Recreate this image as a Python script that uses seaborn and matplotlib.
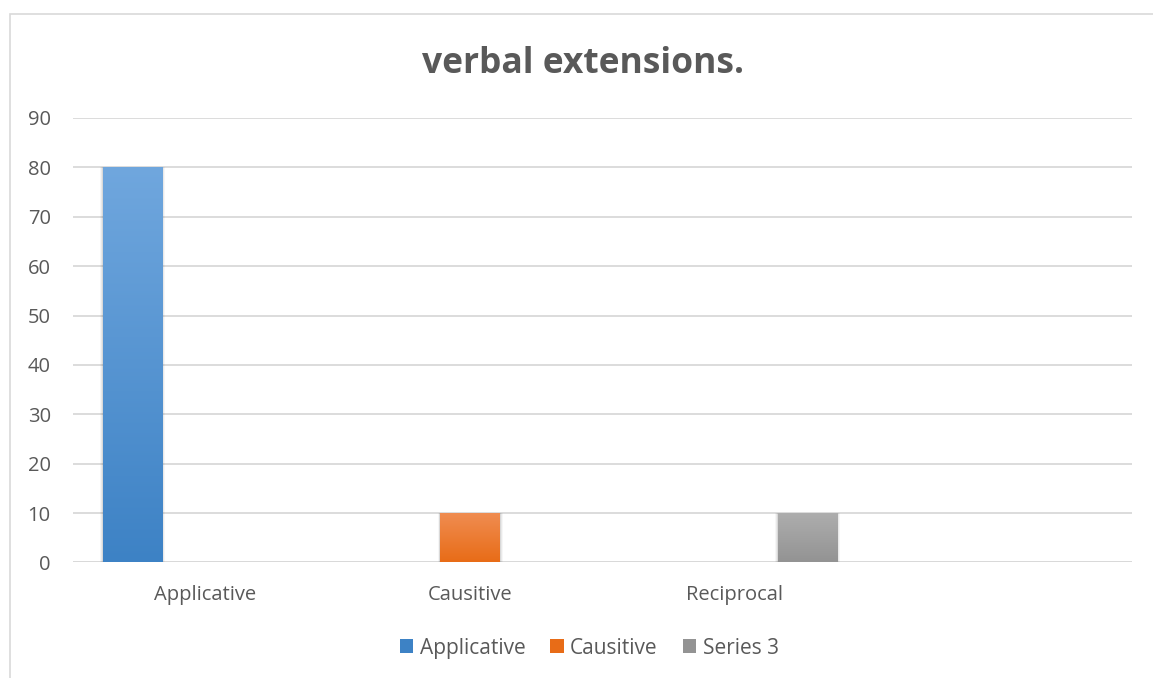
import numpy as np
import pandas as pd
import matplotlib
matplotlib.use("Agg")
import matplotlib.pyplot as plt
from matplotlib.patches import Patch, Rectangle
from matplotlib.colors import LinearSegmentedColormap, to_rgba
import seaborn as sns

# Chart data
categories = ["Applicative", "Causitive", "Reciprocal"]
series = ["Applicative", "Causitive", "Series 3"]
bar_category = ["Applicative", "Causitive", "Reciprocal"]
bar_series = ["Applicative", "Causitive", "Series 3"]
bar_values = [80, 10, 10]
yticks = [0, 10, 20, 30, 40, 50, 60, 70, 80, 90]
title = "verbal extensions."

# Gradient colours per series (top, bottom)
grad = {
    "Applicative": ("#70a7de", "#3d82c5"),
    "Causitive": ("#f08d52", "#e86c17"),
    "Series 3": ("#aeaeae", "#939393"),
}
mid = {k: v[0] for k, v in grad.items()}

sns.set_theme(style="white")
plt.rcParams["font.family"] = ["Open Sans", "DejaVu Sans"]
text_color = "#595959"

df = pd.DataFrame({"category": bar_category, "series": bar_series, "value": bar_values})

fig = plt.figure(figsize=(11.53, 6.78), dpi=100)
ax = fig.add_axes([0.0633, 0.1704, 0.9185, 0.6556])

sns.barplot(data=df, x="category", y="value", hue="series", order=categories,
            hue_order=series, palette=mid, width=0.825, gap=0.18,
            dodge=True, legend=False, ax=ax, zorder=3)

ax.set_xlabel("")
ax.set_ylabel("")
ax.set_yticks(yticks)
ax.yaxis.grid(True, color="#d9d9d9", linewidth=1.3, zorder=0)
ax.set_axisbelow(True)
for s in ax.spines.values():
    s.set_visible(False)
ax.axhline(0, color="#d9d9d9", linewidth=1.3, zorder=1)
ax.tick_params(axis="y", length=0, pad=16, labelsize=14.5, labelcolor=text_color)
ax.tick_params(axis="x", length=0, pad=16, labelsize=14.5, labelcolor=text_color)

# Vertical gradient fill inside each bar, with a soft shadow
bars = [p for p in ax.patches if isinstance(p, Rectangle) and p.get_height() > 0]
for p in bars:
    fc = np.array(p.get_facecolor())
    key = min(grad, key=lambda k: np.sum((np.array(to_rgba(mid[k])) - fc) ** 2))
    top, bottom = grad[key]
    cmap = LinearSegmentedColormap.from_list("g", [bottom, top])
    x0, y0, w, h = p.get_x(), p.get_y(), p.get_width(), p.get_height()
    for k, a in zip([0.010, 0.006, 0.003], [0.035, 0.05, 0.07]):
        ax.add_patch(Rectangle((x0 - k, y0), w + 2 * k, h + k * 10,
                               facecolor="black", alpha=a, edgecolor="none", zorder=2))
    img = ax.imshow(np.linspace(0, 1, 256).reshape(-1, 1), cmap=cmap, origin="lower",
                    extent=[x0, x0 + w, y0, y0 + h], aspect="auto", zorder=3.5)
    img.set_clip_path(p)
    p.set_edgecolor("none")
ax.set_xlim(-0.5, 3.5)
ax.set_ylim(0, 90)

fig.text(0.506, 0.905, title, ha="center", va="center", fontsize=25.5, fontweight="bold",
         color=text_color)

handles = [Patch(facecolor=grad[s][1], edgecolor="none", label=s) for s in series]
leg = fig.legend(handles=handles, loc="center", bbox_to_anchor=(0.511, 0.044), ncol=3,
                 frameon=False, fontsize=15, handlelength=0.65, handleheight=0.65,
                 handletextpad=0.3, columnspacing=1.2)
for t in leg.get_texts():
    t.set_color(text_color)

# Chart border
fig.add_artist(Rectangle((9.5 / 1153, -0.1), 1.2, 1 - 13.5 / 678 + 0.1,
                         transform=fig.transFigure, fill=False,
                         edgecolor="#d9d9d9", linewidth=1.2))

fig.savefig("out.png", dpi=100, facecolor="white")
